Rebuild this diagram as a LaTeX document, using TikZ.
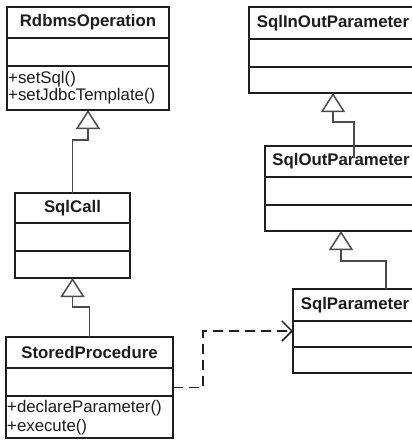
\documentclass[tikz,border=0pt]{standalone}
\usepackage{fontspec}
\setmainfont{Liberation Sans}
\usetikzlibrary{positioning,arrows.meta}
\definecolor{umlline}{RGB}{30,30,30}
\definecolor{umllink}{RGB}{75,75,75}
\definecolor{umltext}{RGB}{28,28,28}
\tikzset{
  clsbox/.style={draw=umlline, line width=1.3pt, fill=white, inner sep=0pt, outer sep=0pt},
  clssep/.style={draw=umlline, line width=1.3pt},
  clsname/.style={font=\fontsize{16.8}{19}\selectfont\bfseries, text=umltext, inner sep=0pt},
  clsop/.style={font=\fontsize{16.8}{19}\selectfont, text=umltext, anchor=west, inner sep=0pt},
  genlink/.style={draw=umllink, line width=1.5pt, -{Triangle[open, length=19pt, width=24pt]}},
  deplink/.style={draw=umlline, line width=1.5pt, dash pattern=on 10pt off 6pt,
                  -{Straight Barb[length=10pt, width=20pt]}},
}
% name, left, right, top, header bottom, attributes bottom, bottom, title
\newcommand{\umlclass}[8]{%
  \node[clsbox, minimum width={(#3-#2)*1pt}, minimum height={(#7-#4)*1pt}]
       (#1) at ({(#2+#3)/2},{(#4+#7)/2}) {};
  \draw[clssep] (#2,#5) -- (#3,#5);
  \draw[clssep] (#2,#6) -- (#3,#6);
  \node[clsname] (#1-name) at ({(#2+#3)/2},{(#4+#5)/2}) {#8};}

\begin{document}
\begin{tikzpicture}[x=1pt, y=-1pt]
    \useasboundingbox (0,0) rectangle (412,440);
    \clip (0,0) rectangle (412,440);

      \umlclass{rdbms}{7}{169}{7}{38}{66}{110}{RdbmsOperation}
      \umlclass{sqlcall}{15}{130}{193}{223}{251}{278}{SqlCall}
      \umlclass{stproc}{6}{173}{337}{368}{396}{438}{StoredProcedure}
      \umlclass{inout}{249}{417}{7}{39}{67}{93}{SqlInOutParameter}
      \umlclass{outparam}{265}{417}{146}{177}{205}{231}{SqlOutParameter}
      \umlclass{param}{293}{417}{289}{321}{347}{373}{SqlParameter}

      \node[clsop] (rdbms-op1) at (8,79.5) {+setSql()};
      \node[clsop] (rdbms-op2) at (8,96) {+setJdbcTemplate()};
      \node[clsop] (stproc-op1) at (7,408.5) {+declareParameter()};
      \node[clsop] (stproc-op2) at (7,427) {+execute()};

      \coordinate (bend1) at (72.5,140);
      \coordinate (bend2) at (72.5,307);
      \coordinate (outtop) at (354,158);
      \coordinate (bend3) at (333,122);
      \coordinate (bend4) at (341,261);
      \coordinate (bend5) at (203,387.5);

      \draw[genlink] (sqlcall.north) |- (bend1) -| (rdbms.south);
      \draw[genlink] (stproc.north) |- (bend2) -| (sqlcall.south);
      \draw[genlink] (outtop) |- (bend3) -| (inout.south);
      \draw[genlink] ([xshift=31pt]param.north) |- (bend4) -| (outparam.south);
      \draw[deplink] (stproc.east) -- (bend5) |- (param.west);

\end{tikzpicture}
\end{document}
